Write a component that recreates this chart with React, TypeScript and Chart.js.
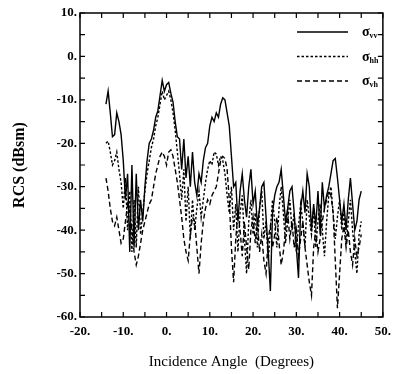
import React, { useEffect, useRef } from 'react';
import { Chart, registerables } from 'chart.js';

Chart.register(...registerables);

// Incidence angle (degrees)
const angles = [
  -14, -13.5, -13, -12.5, -12, -11.5, -11, -10.5, -10, -9.5,
  -9, -8.5, -8, -7.5, -7, -6.5, -6, -5.5, -5, -4.5,
  -4, -3.5, -3, -2.5, -2, -1.5, -1, -0.5, 0, 0.5,
  1, 1.5, 2, 2.5, 3, 3.5, 4, 4.5, 5, 5.5,
  6, 6.5, 7, 7.5, 8, 8.5, 9, 9.5, 10, 10.5,
  11, 11.5, 12, 12.5, 13, 13.5, 14, 14.5, 15, 15.5,
  16, 16.5, 17, 17.5, 18, 18.5, 19, 19.5, 20, 20.5,
  21, 21.5, 22, 22.5, 23, 23.5, 24, 24.5, 25, 25.5,
  26, 26.5, 27, 27.5, 28, 28.5, 29, 29.5, 30, 30.5,
  31, 31.5, 32, 32.5, 33, 33.5, 34, 34.5, 35, 35.5,
  36, 36.5, 37, 37.5, 38, 38.5, 39, 39.5, 40, 40.5,
  41, 41.5, 42, 42.5, 43, 43.5, 44, 44.5, 45,
];

// sigma_vv (dBsm)
const sigmaVV = [
  -11, -8, -13, -18.5, -18, -13, -15, -18, -24, -33,
  -27, -45, -25, -44, -27, -40, -33, -38, -30, -24,
  -20, -19, -17, -14, -12.5, -9, -5.5, -8, -6.5, -6,
  -8.5, -10.5, -15, -18.5, -19, -26, -19, -28, -23, -30,
  -22, -29, -32, -27, -29, -24, -21, -20, -16, -14,
  -15, -13, -14, -11, -9.5, -10, -13, -16, -23, -30,
  -29, -38, -31, -27, -33, -37, -30, -26, -34, -31,
  -39, -35, -30, -29, -37, -45, -54, -36, -32, -30,
  -29, -26, -32, -38, -35, -31, -30, -36, -44, -51,
  -35, -31, -36, -27, -30, -40, -34, -39, -31, -41,
  -29, -35, -32, -30, -27, -24, -23.5, -28, -33, -38,
  -34, -40, -33, -28, -34, -40, -38, -33, -31,
];

// sigma_hh (dBsm)
const sigmaHH = [
  -20, -19.5, -22, -25, -24, -22, -26, -29, -35, -28,
  -40, -31, -45, -33, -44, -30, -41, -36, -31, -27,
  -24, -21, -19, -16, -14, -11, -8, -10, -9, -8,
  -10, -13, -17, -22, -27, -33, -26, -38, -30, -42,
  -33, -40, -35, -31, -37, -33, -29, -26, -24, -25,
  -22, -22.5, -25, -23, -24, -27, -32, -36, -30, -40,
  -34, -45, -36, -32, -42, -50, -38, -33, -41, -36,
  -44, -35, -31, -42, -38, -47, -40, -33, -38, -44,
  -35, -30, -36, -43, -38, -33, -40, -36, -45, -39,
  -34, -38, -44, -33, -37, -41, -35, -44, -38, -34,
  -40, -46, -38, -32, -30, -36, -42, -37, -33, -40,
  -36, -43, -38, -33, -40, -45, -50, -41, -38,
];

// sigma_vh (dBsm)
const sigmaVH = [
  -28, -31, -35, -38, -39, -37, -40, -43, -42, -38,
  -34, -36, -40, -45, -48, -46, -43, -40, -38, -36,
  -34, -33, -30, -27, -25, -23, -22, -23, -25, -22,
  -21.5, -23, -26, -29, -33, -37, -42, -45, -47, -41,
  -37, -38, -44, -50, -43, -38, -35, -33, -34, -32,
  -31, -30, -27, -24, -23, -23.5, -26, -33, -44, -52,
  -42, -36, -40, -46, -38, -44, -49, -40, -37, -43,
  -38, -45, -41, -47, -50, -42, -39, -44, -41, -37,
  -43, -48, -45, -40, -36, -42, -38, -44, -40, -46,
  -42, -38, -44, -48, -52, -55, -44, -40, -45, -42,
  -38, -35, -33, -31, -32, -36, -47, -58, -50, -42,
  -39, -44, -40, -45, -48, -42, -46, -44, -41,
];

const seriesSubscripts = ['vv', 'hh', 'vh'];
const xRange = [-20, 50];
const yRange = [-60, 10];
const majorStep = 10;
const minorStep = 5;

const FONT = "'Liberation Serif', 'Times New Roman', Times, serif";

const frameAndLegend = {
  id: 'frameAndLegend',
  afterDraw(chart: any) {
    const { ctx, chartArea: a, scales } = chart;
    const xs = scales.x;
    const ys = scales.y;
    ctx.save();
    ctx.strokeStyle = '#000';
    ctx.setLineDash([]);
    ctx.lineWidth = 1.5;
    ctx.strokeRect(a.left, a.top, a.right - a.left, a.bottom - a.top);
    ctx.lineWidth = 1.2;
    ctx.beginPath();
    for (let v = xRange[0]; v <= xRange[1]; v += minorStep) {
      const px = xs.getPixelForValue(v);
      ctx.moveTo(px, a.bottom);
      ctx.lineTo(px, a.bottom - 5);
      ctx.moveTo(px, a.top);
      ctx.lineTo(px, a.top + 5);
    }
    for (let v = yRange[0]; v <= yRange[1]; v += minorStep) {
      const py = ys.getPixelForValue(v);
      ctx.moveTo(a.left, py);
      ctx.lineTo(a.left + 5, py);
      ctx.moveTo(a.right, py);
      ctx.lineTo(a.right - 5, py);
    }
    ctx.stroke();

    // legend
    chart.data.datasets.forEach((ds: any, i: number) => {
      const ly = a.top + 19 + i * 24.5;
      ctx.beginPath();
      ctx.lineWidth = 1.5;
      ctx.setLineDash(ds.borderDash || []);
      ctx.moveTo(a.left + 217, ly);
      ctx.lineTo(a.left + 268, ly);
      ctx.stroke();
      ctx.setLineDash([]);
      ctx.fillStyle = '#000';
      ctx.textBaseline = 'alphabetic';
      ctx.textAlign = 'left';
      ctx.font = `bold 14px ${FONT}`;
      const sx = a.left + 282;
      ctx.fillText('σ', sx, ly + 4);
      const w = ctx.measureText('σ').width;
      ctx.font = `bold 8px ${FONT}`;
      ctx.fillText(seriesSubscripts[i], sx + w, ly + 6);
    });
    ctx.restore();
  },
};

export default function App() {
  const ref = useRef<HTMLCanvasElement | null>(null);
  useEffect(() => {
    if (!ref.current) return;
    const mk = (vals: number[]) => angles.map((x, i) => ({ x, y: vals[i] }));
    const chart = new Chart(ref.current, {
      type: 'line',
      data: {
        datasets: [
          { label: 'vv', data: mk(sigmaVV), borderColor: '#000', borderWidth: 1.4, borderDash: [] },
          { label: 'hh', data: mk(sigmaHH), borderColor: '#000', borderWidth: 1.4, borderDash: [2.5, 2] },
          { label: 'vh', data: mk(sigmaVH), borderColor: '#000', borderWidth: 1.4, borderDash: [5, 3] },
        ] as any,
      },
      options: {
        animation: false,
        responsive: true,
        maintainAspectRatio: false,
        layout: { padding: { top: 13, right: 10, left: 0, bottom: 0 } },
        plugins: { legend: { display: false }, tooltip: { enabled: false } },
        elements: { point: { radius: 0 }, line: { tension: 0 } },
        scales: {
          x: {
            type: 'linear',
            min: xRange[0],
            max: xRange[1],
            ticks: {
              stepSize: majorStep,
              autoSkip: false,
              maxRotation: 0,
              color: '#000',
              padding: 7,
              font: { family: FONT, size: 13, weight: 'bold' },
              callback: (v: any) => `${v}.`,
            },
            grid: { display: false, drawTicks: false },
            border: { display: false },
            title: {
              display: true,
              text: 'Incidence Angle  (Degrees)',
              color: '#000',
              font: { family: FONT, size: 15 },
              padding: { top: 0, bottom: 3 },
            },
            afterFit: (s: any) => { s.height = 57; },
          },
          y: {
            type: 'linear',
            min: yRange[0],
            max: yRange[1],
            ticks: {
              stepSize: majorStep,
              autoSkip: false,
              color: '#000',
              padding: 3,
              font: { family: FONT, size: 13, weight: 'bold' },
              callback: (v: any) => `${v}.`,
            },
            grid: { display: false, drawTicks: false },
            border: { display: false },
            title: {
              display: true,
              text: 'RCS (dBsm)',
              color: '#000',
              font: { family: FONT, size: 16, weight: 'bold' },
              padding: { top: 10, bottom: 0 },
            },
            afterFit: (s: any) => { s.width = 80; },
          },
        },
      } as any,
      plugins: [frameAndLegend],
    });
    return () => chart.destroy();
  }, []);
  return (
    <div style={{ position: 'absolute', left: 0, top: 0, width: 398, height: 374 }}>
      <canvas ref={ref} />
    </div>
  );
}
